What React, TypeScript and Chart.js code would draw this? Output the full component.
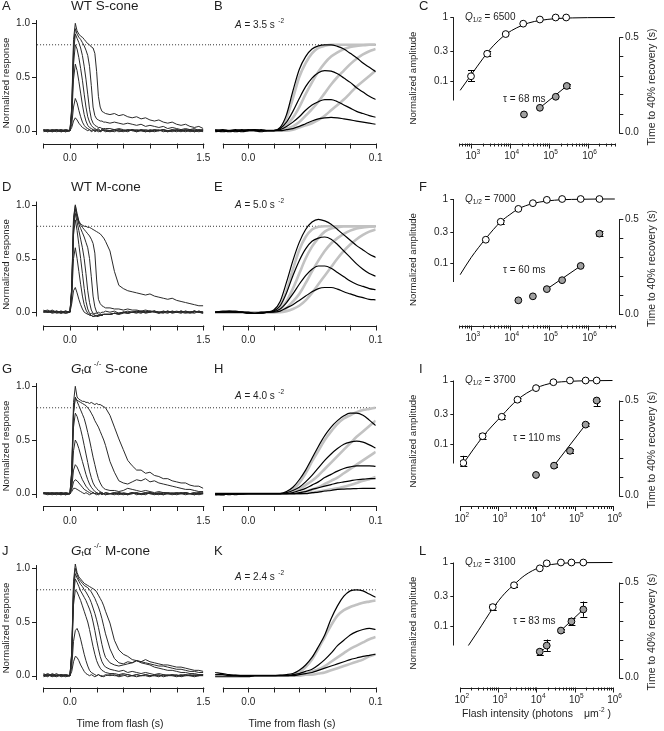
import React, { useEffect, useRef } from 'react';
import { Chart, registerables } from 'chart.js';

Chart.register(...registerables);

// ======================= DATA =======================
// Column 1: normalized flash responses (time in s)
const TRACE_TIME = [
  -0.3, -0.25, -0.2, -0.15, -0.1, -0.05, 0,
  0.02, 0.04, 0.06, 0.08, 0.1, 0.12, 0.14, 0.16, 0.18, 0.2, 0.22, 0.24, 0.26, 0.28, 0.3, 0.32, 0.34, 0.36, 0.38, 0.4,
  0.45, 0.5, 0.55, 0.6, 0.65, 0.7, 0.75, 0.8, 0.85, 0.9, 0.95, 1.0, 1.05, 1.1, 1.15, 1.2, 1.25, 1.3, 1.35, 1.4, 1.45, 1.5,
];

// WT S-cone
const WT_S_1 = [0.01, -0.01, 0.0, 0.01, -0.01, 0.0, 0.0,
  0.03, 0.09, 0.12, 0.1, 0.07, 0.05, 0.03, 0.02, 0.01, 0.0, 0.01, -0.01, 0.0, 0.01, 0.0, -0.01, 0.0, 0.01, 0.0, -0.01,
  0.0, 0.01, -0.01, 0.0, 0.01, 0.0, -0.01, 0.01, 0.0, -0.01, 0.0, 0.01, -0.01, 0.0, 0.01, 0.0, -0.01, 0.01, 0.0, -0.01, 0.01, 0.0];
const WT_S_2 = [0.0, 0.01, -0.01, 0.0, 0.01, -0.01, 0.0,
  0.06, 0.22, 0.3, 0.26, 0.19, 0.13, 0.08, 0.05, 0.03, 0.02, 0.01, 0.0, 0.01, -0.01, 0.0, 0.01, -0.01, 0.0, 0.01, 0.0,
  -0.01, 0.0, 0.01, 0.0, -0.01, 0.01, 0.0, 0.0, -0.01, 0.01, 0.0, 0.0, 0.01, -0.01, 0.0, 0.01, 0.0, -0.01, 0.0, 0.01, 0.0, -0.01];
const WT_S_3 = [-0.01, 0.0, 0.01, 0.0, -0.01, 0.01, 0.0,
  0.12, 0.48, 0.62, 0.56, 0.46, 0.35, 0.24, 0.15, 0.09, 0.05, 0.03, 0.02, 0.01, 0.0, 0.01, 0.0, -0.01, 0.0, 0.01, 0.0,
  0.0, -0.01, 0.01, 0.0, 0.0, 0.01, -0.01, 0.0, 0.01, 0.0, -0.01, 0.0, 0.01, 0.0, -0.01, 0.01, 0.0, 0.0, 0.01, -0.01, 0.0, 0.01];
const WT_S_4 = [0.01, 0.0, -0.01, 0.01, 0.0, -0.01, 0.0,
  0.15, 0.62, 0.8, 0.76, 0.68, 0.58, 0.47, 0.34, 0.22, 0.13, 0.08, 0.05, 0.03, 0.02, 0.01, 0.02, 0.0, 0.01, 0.0, 0.01,
  0.0, 0.01, 0.0, -0.01, 0.01, 0.0, 0.01, 0.0, -0.01, 0.0, 0.01, 0.0, 0.0, -0.01, 0.01, 0.0, 0.0, 0.01, -0.01, 0.0, 0.01, 0.0];
const WT_S_5 = [0.0, -0.01, 0.01, 0.0, 0.01, 0.0, 0.0,
  0.18, 0.72, 0.9, 0.86, 0.82, 0.77, 0.7, 0.6, 0.48, 0.34, 0.2, 0.11, 0.07, 0.05, 0.04, 0.03, 0.03, 0.02, 0.02, 0.02,
  0.02, 0.01, 0.02, 0.01, 0.0, 0.01, 0.0, 0.01, 0.0, -0.01, 0.01, 0.0, 0.01, 0.0, 0.0, -0.01, 0.01, 0.0, 0.01, 0.0, -0.01, 0.0];
const WT_S_6 = [0.01, 0.0, 0.0, -0.01, 0.0, 0.01, 0.0,
  0.2, 0.78, 0.95, 0.9, 0.87, 0.85, 0.82, 0.79, 0.75, 0.7, 0.6, 0.42, 0.22, 0.14, 0.11, 0.1, 0.09, 0.09, 0.08, 0.08,
  0.07, 0.08, 0.07, 0.06, 0.07, 0.06, 0.05, 0.06, 0.04, 0.05, 0.04, 0.03, 0.04, 0.02, 0.03, 0.02, 0.01, 0.02, 0.01, 0.02, 0.0, 0.01];
const WT_S_7 = [0.0, 0.01, 0.0, 0.01, -0.01, 0.0, 0.0,
  0.22, 0.85, 1.0, 0.93, 0.9, 0.88, 0.87, 0.85, 0.83, 0.81, 0.8, 0.78, 0.77, 0.72, 0.55, 0.32, 0.22, 0.18, 0.17, 0.16,
  0.15, 0.16, 0.14, 0.15, 0.13, 0.12, 0.13, 0.11, 0.12, 0.1, 0.09, 0.1, 0.08, 0.07, 0.08, 0.06, 0.05, 0.06, 0.04, 0.03, 0.04, 0.02];
const WT_S_TRACES = [WT_S_1, WT_S_2, WT_S_3, WT_S_4, WT_S_5, WT_S_6, WT_S_7];

// WT M-cone
const WT_M_1 = [0.01, 0.0, 0.02, 0.0, -0.01, 0.01, 0.0,
  0.08, 0.2, 0.23, 0.18, 0.12, 0.07, 0.03, 0.0, -0.01, -0.02, -0.02, -0.01, -0.02, -0.01, -0.01, 0.0, -0.01, 0.0, 0.0, 0.01,
  0.0, 0.01, -0.01, 0.0, 0.01, 0.0, 0.0, -0.01, 0.01, 0.0, 0.01, -0.01, 0.0, 0.01, 0.0, 0.0, -0.01, 0.01, 0.0, 0.01, 0.0, -0.01];
const WT_M_2 = [0.0, 0.01, 0.0, 0.01, 0.0, -0.01, 0.0,
  0.14, 0.5, 0.6, 0.5, 0.38, 0.26, 0.15, 0.07, 0.02, -0.01, -0.03, -0.03, -0.04, -0.03, -0.03, -0.03, -0.02, -0.03, -0.02, -0.02,
  -0.02, -0.01, -0.02, 0.0, -0.01, 0.0, 0.0, 0.01, -0.01, 0.0, 0.01, 0.0, 0.0, 0.01, -0.01, 0.0, 0.01, 0.0, 0.0, 0.01, 0.0, -0.01];
const WT_M_3 = [0.02, 0.0, 0.01, -0.01, 0.0, 0.01, 0.0,
  0.18, 0.72, 0.86, 0.76, 0.63, 0.5, 0.36, 0.22, 0.1, 0.03, -0.01, -0.03, -0.04, -0.04, -0.03, -0.03, -0.03, -0.02, -0.02, -0.02,
  -0.02, -0.01, -0.01, 0.0, -0.01, 0.0, 0.01, 0.0, 0.0, 0.01, 0.0, -0.01, 0.01, 0.0, 0.0, 0.01, 0.0, -0.01, 0.0, 0.01, 0.0, 0.0];
const WT_M_4 = [0.0, 0.01, -0.01, 0.0, 0.01, 0.0, 0.0,
  0.2, 0.78, 0.92, 0.84, 0.76, 0.68, 0.6, 0.5, 0.36, 0.2, 0.09, 0.02, -0.01, -0.03, -0.04, -0.04, -0.03, -0.03, -0.02, -0.02,
  -0.02, -0.01, -0.02, -0.01, 0.0, 0.0, -0.01, 0.01, 0.0, 0.0, 0.01, 0.0, 0.0, -0.01, 0.01, 0.0, 0.01, 0.0, 0.0, -0.01, 0.01, 0.0];
const WT_M_5 = [0.01, 0.0, 0.0, 0.01, -0.01, 0.0, 0.0,
  0.21, 0.82, 0.96, 0.88, 0.82, 0.78, 0.74, 0.7, 0.65, 0.6, 0.5, 0.33, 0.15, 0.05, 0.0, -0.02, -0.03, -0.03, -0.02, -0.02,
  -0.02, -0.01, -0.01, 0.0, -0.01, 0.0, 0.01, 0.0, 0.0, 0.01, 0.0, 0.0, -0.01, 0.01, 0.0, 0.0, 0.01, 0.0, -0.01, 0.0, 0.01, 0.0];
const WT_M_6 = [0.0, 0.0, 0.01, 0.0, 0.01, -0.01, 0.0,
  0.22, 0.86, 0.99, 0.9, 0.84, 0.81, 0.79, 0.77, 0.75, 0.73, 0.71, 0.68, 0.64, 0.55, 0.3, 0.12, 0.08, 0.06, 0.05, 0.04,
  0.04, 0.03, 0.03, 0.02, 0.03, 0.02, 0.02, 0.01, 0.02, 0.01, 0.01, 0.0, 0.01, 0.0, 0.01, 0.0, 0.0, 0.01, 0.0, 0.01, 0.0, 0.0];
const WT_M_7 = [0.01, 0.02, 0.0, 0.01, 0.0, 0.01, 0.0,
  0.23, 0.88, 1.0, 0.92, 0.85, 0.82, 0.81, 0.8, 0.8, 0.79, 0.79, 0.78, 0.77, 0.76, 0.75, 0.74, 0.73, 0.71, 0.69, 0.66,
  0.57, 0.38, 0.25, 0.22, 0.2, 0.19, 0.18, 0.17, 0.16, 0.17, 0.15, 0.14, 0.13, 0.12, 0.13, 0.11, 0.1, 0.09, 0.08, 0.07, 0.06, 0.06];
const WT_M_TRACES = [WT_M_1, WT_M_2, WT_M_3, WT_M_4, WT_M_5, WT_M_6, WT_M_7];

// Gt alpha -/- S-cone
const GT_S_1 = [0.0, 0.01, 0.0, -0.01, 0.01, 0.0, 0.0,
  0.02, 0.05, 0.05, 0.04, 0.03, 0.02, 0.01, 0.0, 0.01, 0.0, -0.01, 0.0, 0.01, 0.0, 0.0, -0.01, 0.0, 0.01, 0.0, 0.0,
  0.0, -0.01, 0.01, 0.0, 0.0, 0.01, -0.01, 0.0, 0.01, 0.0, 0.0, -0.01, 0.01, 0.0, 0.0, 0.01, 0.0, -0.01, 0.0, 0.01, 0.0, 0.0];
const GT_S_2 = [0.01, 0.0, 0.0, 0.01, 0.0, -0.01, 0.0,
  0.04, 0.11, 0.13, 0.12, 0.1, 0.08, 0.06, 0.04, 0.03, 0.02, 0.01, 0.0, 0.01, 0.0, -0.01, 0.0, 0.01, 0.0, 0.0, -0.01,
  0.0, 0.01, 0.0, -0.01, 0.0, 0.01, 0.0, 0.0, -0.01, 0.01, 0.0, 0.01, 0.0, 0.0, -0.01, 0.0, 0.01, 0.0, 0.0, 0.01, -0.01, 0.0];
const GT_S_3 = [0.0, 0.0, 0.01, 0.0, -0.01, 0.0, 0.0,
  0.06, 0.22, 0.27, 0.25, 0.21, 0.17, 0.13, 0.1, 0.07, 0.05, 0.03, 0.02, 0.01, 0.0, 0.01, 0.0, 0.0, -0.01, 0.0, 0.01,
  0.0, 0.0, -0.01, 0.01, 0.0, 0.0, 0.01, -0.01, 0.0, 0.01, 0.0, 0.0, -0.01, 0.0, 0.01, 0.0, 0.0, 0.01, 0.0, -0.01, 0.0, 0.01];
const GT_S_4 = [0.01, 0.0, -0.01, 0.0, 0.01, 0.0, 0.0,
  0.1, 0.4, 0.5, 0.47, 0.42, 0.36, 0.3, 0.24, 0.18, 0.13, 0.09, 0.06, 0.04, 0.02, 0.01, 0.0, 0.01, 0.0, 0.0, -0.01,
  0.0, 0.01, 0.0, 0.0, -0.01, 0.01, 0.0, 0.0, 0.01, 0.0, -0.01, 0.0, 0.01, 0.0, 0.0, -0.01, 0.0, 0.01, 0.0, 0.0, 0.01, 0.0];
const GT_S_5 = [0.0, -0.01, 0.0, 0.01, 0.0, 0.0, 0.0,
  0.16, 0.62, 0.75, 0.72, 0.66, 0.6, 0.53, 0.45, 0.37, 0.29, 0.21, 0.15, 0.1, 0.07, 0.05, 0.03, 0.02, 0.01, 0.0, 0.01,
  0.0, 0.0, 0.01, 0.0, -0.01, 0.0, 0.01, 0.0, 0.0, 0.01, 0.0, 0.0, -0.01, 0.01, 0.0, 0.0, 0.01, 0.0, 0.0, -0.01, 0.0, 0.01];
const GT_S_6 = [0.01, 0.0, 0.0, 0.0, 0.01, -0.01, 0.0,
  0.2, 0.75, 0.9, 0.86, 0.82, 0.78, 0.74, 0.7, 0.64, 0.57, 0.5, 0.42, 0.34, 0.27, 0.2, 0.14, 0.1, 0.07, 0.05, 0.04,
  0.03, 0.03, 0.02, 0.03, 0.05, 0.04, 0.03, 0.02, 0.03, 0.02, 0.01, 0.02, 0.01, 0.01, 0.0, 0.01, 0.0, 0.01, 0.0, 0.0, 0.01, 0.0];
const GT_S_7 = [0.0, 0.01, 0.0, 0.0, -0.01, 0.01, 0.0,
  0.2, 0.76, 0.89, 0.87, 0.86, 0.85, 0.84, 0.83, 0.82, 0.8, 0.78, 0.75, 0.72, 0.68, 0.65, 0.62, 0.58, 0.54, 0.5, 0.45,
  0.3, 0.2, 0.12, 0.1, 0.09, 0.11, 0.13, 0.12, 0.14, 0.11, 0.12, 0.1, 0.09, 0.08, 0.07, 0.06, 0.05, 0.04, 0.04, 0.03, 0.02, 0.02];
const GT_S_8 = [0.01, 0.0, 0.01, 0.0, 0.0, 0.01, 0.0,
  0.22, 0.85, 1.0, 0.9, 0.88, 0.87, 0.86, 0.86, 0.85, 0.85, 0.84, 0.85, 0.84, 0.83, 0.84, 0.83, 0.83, 0.82, 0.81, 0.8,
  0.73, 0.62, 0.51, 0.41, 0.31, 0.26, 0.22, 0.22, 0.19, 0.2, 0.17, 0.16, 0.14, 0.14, 0.12, 0.11, 0.1, 0.1, 0.08, 0.07, 0.07, 0.05];
const GT_S_TRACES = [GT_S_1, GT_S_2, GT_S_3, GT_S_4, GT_S_5, GT_S_6, GT_S_7, GT_S_8];

// Gt alpha -/- M-cone
const GT_M_1 = [0.01, -0.01, 0.02, 0.0, 0.01, -0.01, 0.0,
  0.04, 0.13, 0.18, 0.17, 0.14, 0.1, 0.07, 0.04, 0.02, 0.01, 0.0, 0.01, 0.0, -0.01, 0.0, 0.01, 0.0, -0.01, 0.0, 0.01,
  0.0, 0.01, -0.01, 0.0, 0.01, 0.0, -0.01, 0.0, 0.01, 0.0, 0.0, -0.01, 0.01, 0.0, 0.0, 0.01, -0.01, 0.0, 0.01, 0.0, 0.0, 0.01];
const GT_M_2 = [0.0, 0.01, 0.0, -0.01, 0.01, 0.0, 0.0,
  0.08, 0.32, 0.42, 0.44, 0.4, 0.34, 0.27, 0.2, 0.14, 0.09, 0.05, 0.03, 0.02, 0.01, 0.0, 0.01, 0.0, 0.0, -0.01, 0.0,
  0.01, 0.0, 0.0, 0.01, -0.01, 0.0, 0.01, 0.0, 0.0, -0.01, 0.01, 0.0, 0.0, 0.01, 0.0, -0.01, 0.0, 0.01, 0.0, 0.0, 0.01, 0.0];
const GT_M_3 = [-0.01, 0.0, 0.01, 0.0, 0.0, 0.01, 0.0,
  0.16, 0.66, 0.8, 0.78, 0.74, 0.7, 0.65, 0.6, 0.55, 0.5, 0.43, 0.35, 0.27, 0.2, 0.14, 0.1, 0.07, 0.05, 0.04, 0.03,
  0.02, 0.02, 0.01, 0.02, 0.01, 0.0, 0.01, 0.0, 0.01, 0.0, 0.0, 0.01, -0.01, 0.0, 0.01, 0.0, 0.0, 0.01, 0.0, -0.01, 0.0, 0.01];
const GT_M_4 = [0.01, 0.0, 0.0, 0.02, -0.01, 0.0, 0.0,
  0.18, 0.75, 0.9, 0.87, 0.83, 0.79, 0.76, 0.73, 0.7, 0.66, 0.62, 0.57, 0.5, 0.42, 0.33, 0.25, 0.18, 0.13, 0.1, 0.08,
  0.06, 0.05, 0.04, 0.05, 0.03, 0.04, 0.03, 0.02, 0.03, 0.02, 0.01, 0.02, 0.01, 0.0, 0.01, 0.0, 0.01, 0.0, 0.0, 0.01, 0.0, 0.0];
const GT_M_5 = [0.0, 0.02, 0.0, 0.0, 0.01, 0.0, 0.0,
  0.2, 0.8, 0.95, 0.91, 0.88, 0.85, 0.83, 0.8, 0.78, 0.75, 0.72, 0.68, 0.63, 0.58, 0.52, 0.45, 0.37, 0.29, 0.22, 0.17,
  0.12, 0.1, 0.09, 0.1, 0.11, 0.12, 0.14, 0.12, 0.11, 0.1, 0.08, 0.07, 0.06, 0.05, 0.05, 0.04, 0.03, 0.03, 0.02, 0.02, 0.01, 0.01];
const GT_M_6 = [0.02, 0.0, 0.01, 0.0, 0.0, 0.01, 0.0,
  0.21, 0.84, 1.0, 0.94, 0.9, 0.88, 0.86, 0.84, 0.83, 0.82, 0.8, 0.78, 0.75, 0.72, 0.68, 0.64, 0.59, 0.53, 0.46, 0.39,
  0.25, 0.16, 0.12, 0.11, 0.13, 0.12, 0.14, 0.13, 0.12, 0.11, 0.1, 0.09, 0.09, 0.08, 0.07, 0.06, 0.06, 0.05, 0.04, 0.04, 0.03, 0.03];
const GT_M_7 = [0.0, 0.01, -0.01, 0.01, 0.0, 0.0, 0.0,
  0.22, 0.88, 1.04, 0.96, 0.92, 0.9, 0.88, 0.86, 0.85, 0.84, 0.83, 0.82, 0.81, 0.8, 0.78, 0.75, 0.72, 0.69, 0.65, 0.6,
  0.49, 0.33, 0.24, 0.2, 0.18, 0.15, 0.14, 0.13, 0.15, 0.13, 0.12, 0.11, 0.1, 0.1, 0.09, 0.08, 0.08, 0.07, 0.06, 0.05, 0.05, 0.04];
const GT_M_TRACES = [GT_M_1, GT_M_2, GT_M_3, GT_M_4, GT_M_5, GT_M_6, GT_M_7];

// Column 2: early rising phase (black = responses, grey = model)
const RISE_TIME = [-0.026, -0.02, -0.015, -0.01, -0.005, 0, 0.005, 0.01, 0.015, 0.02, 0.025, 0.03, 0.035,
  0.04, 0.045, 0.05, 0.055, 0.06, 0.065, 0.07, 0.075, 0.08, 0.085, 0.09, 0.095, 0.1];

const WT_S_RISE_BLACK = [
  [0.0, -0.01, 0.0, 0.01, 0.0, 0.005, 0.01, 0.0, 0.0, 0.0, 0.03, 0.15, 0.37, 0.57, 0.69, 0.76, 0.79, 0.8, 0.8, 0.785, 0.76, 0.72, 0.68, 0.63, 0.59, 0.55],
  [0.01, 0.0, -0.01, 0.0, 0.01, 0.0, 0.0, 0.01, 0.0, 0.0, 0.02, 0.08, 0.18, 0.3, 0.41, 0.49, 0.54, 0.56, 0.555, 0.53, 0.49, 0.45, 0.4, 0.36, 0.32, 0.29],
  [-0.01, 0.0, 0.0, -0.01, 0.0, 0.01, 0.0, -0.01, 0.0, 0.0, 0.01, 0.04, 0.08, 0.13, 0.19, 0.24, 0.27, 0.29, 0.29, 0.27, 0.24, 0.21, 0.18, 0.16, 0.14, 0.125],
  [0.0, 0.01, 0.0, 0.0, -0.01, 0.0, 0.01, 0.0, 0.0, 0.0, 0.0, 0.01, 0.02, 0.04, 0.065, 0.09, 0.11, 0.12, 0.125, 0.12, 0.11, 0.1, 0.09, 0.08, 0.07, 0.06],
];
const WT_S_RISE_GREY = [
  [0, 0, 0, 0, 0, 0, 0, 0, 0, 0, 0.02, 0.12, 0.3, 0.5, 0.63, 0.72, 0.77, 0.79, 0.8, 0.8, 0.8, 0.8, 0.8, 0.8, 0.8, 0.8],
  [0, 0, 0, 0, 0, 0, 0, 0, 0, 0, 0.01, 0.05, 0.12, 0.22, 0.34, 0.45, 0.55, 0.63, 0.69, 0.73, 0.76, 0.78, 0.79, 0.795, 0.8, 0.8],
  [0, 0, 0, 0, 0, 0, 0, 0, 0, 0, 0.0, 0.02, 0.04, 0.08, 0.14, 0.2, 0.27, 0.35, 0.43, 0.5, 0.56, 0.62, 0.67, 0.71, 0.74, 0.76],
  [0, 0, 0, 0, 0, 0, 0, 0, 0, 0, 0.0, 0.0, 0.01, 0.03, 0.05, 0.07, 0.1, 0.14, 0.19, 0.24, 0.29, 0.35, 0.41, 0.46, 0.51, 0.56],
];
const WT_M_RISE_BLACK = [
  [0.0, 0.01, 0.01, 0.0, 0.0, 0.0, -0.01, -0.01, 0.0, 0.02, 0.1, 0.28, 0.48, 0.65, 0.77, 0.84, 0.865, 0.85, 0.82, 0.77, 0.72, 0.67, 0.62, 0.58, 0.54, 0.51],
  [0.0, 0.0, 0.01, 0.01, 0.0, -0.01, -0.01, -0.01, 0.0, 0.01, 0.06, 0.18, 0.34, 0.48, 0.59, 0.66, 0.69, 0.7, 0.68, 0.63, 0.57, 0.51, 0.45, 0.4, 0.36, 0.335],
  [0.0, 0.0, 0.0, 0.0, 0.0, -0.01, -0.01, -0.005, 0.0, 0.005, 0.03, 0.09, 0.17, 0.26, 0.34, 0.4, 0.43, 0.43, 0.41, 0.37, 0.33, 0.29, 0.26, 0.24, 0.22, 0.21],
  [0.0, 0.0, 0.0, 0.0, 0.0, -0.005, -0.01, 0.0, 0.0, 0.0, 0.01, 0.04, 0.07, 0.11, 0.15, 0.19, 0.22, 0.23, 0.23, 0.215, 0.19, 0.17, 0.15, 0.135, 0.12, 0.115],
];
const WT_M_RISE_GREY = [
  [0, 0, 0, 0, 0, 0, 0, 0, 0, 0.01, 0.06, 0.2, 0.4, 0.58, 0.7, 0.77, 0.795, 0.8, 0.8, 0.8, 0.8, 0.8, 0.8, 0.8, 0.8, 0.8],
  [0, 0, 0, 0, 0, 0, 0, 0, 0, 0.0, 0.03, 0.1, 0.22, 0.36, 0.5, 0.61, 0.69, 0.75, 0.78, 0.79, 0.8, 0.8, 0.8, 0.8, 0.8, 0.8],
  [0, 0, 0, 0, 0, 0, 0, 0, 0, 0.0, 0.01, 0.04, 0.1, 0.17, 0.27, 0.38, 0.48, 0.57, 0.64, 0.69, 0.73, 0.76, 0.78, 0.79, 0.795, 0.8],
  [0, 0, 0, 0, 0, 0, 0, 0, 0, 0.0, 0.0, 0.01, 0.03, 0.06, 0.11, 0.18, 0.26, 0.34, 0.42, 0.5, 0.57, 0.63, 0.68, 0.72, 0.75, 0.77],
];
const GT_S_RISE_BLACK = [
  [-0.01, -0.01, 0.0, 0.0, -0.005, 0.0, 0.0, 0.0, 0.0, 0.0, 0.0, 0.02, 0.06, 0.13, 0.22, 0.33, 0.44, 0.54, 0.62, 0.68, 0.725, 0.75, 0.75, 0.73, 0.685, 0.635],
  [-0.01, 0.0, 0.0, -0.01, 0.0, 0.0, 0.0, 0.0, 0.0, 0.0, 0.0, 0.01, 0.03, 0.06, 0.11, 0.17, 0.24, 0.31, 0.37, 0.42, 0.46, 0.48, 0.49, 0.48, 0.455, 0.425],
  [0.0, -0.01, 0.0, 0.0, 0.0, 0.0, 0.0, 0.0, 0.0, 0.0, 0.0, 0.0, 0.01, 0.03, 0.05, 0.08, 0.11, 0.15, 0.18, 0.21, 0.235, 0.25, 0.26, 0.26, 0.26, 0.255],
  [-0.01, -0.01, 0.0, 0.0, 0.0, 0.0, 0.0, 0.0, 0.0, 0.0, 0.0, 0.0, 0.0, 0.01, 0.02, 0.04, 0.055, 0.07, 0.085, 0.1, 0.11, 0.12, 0.13, 0.135, 0.14, 0.14],
  [0.0, 0.0, -0.01, 0.0, 0.0, 0.0, 0.0, 0.0, 0.0, 0.0, 0.0, 0.0, 0.0, 0.0, 0.0, 0.01, 0.015, 0.025, 0.03, 0.04, 0.043, 0.045, 0.048, 0.05, 0.05, 0.05],
];
const GT_S_RISE_GREY = [
  [0, 0, 0, 0, 0, 0, 0, 0, 0, 0, 0, 0.01, 0.04, 0.1, 0.19, 0.3, 0.4, 0.5, 0.58, 0.65, 0.7, 0.73, 0.76, 0.78, 0.79, 0.8],
  [0, 0, 0, 0, 0, 0, 0, 0, 0, 0, 0, 0.0, 0.01, 0.04, 0.08, 0.12, 0.17, 0.23, 0.29, 0.35, 0.41, 0.47, 0.53, 0.58, 0.63, 0.68],
  [0, 0, 0, 0, 0, 0, 0, 0, 0, 0, 0, 0.0, 0.0, 0.01, 0.02, 0.04, 0.06, 0.09, 0.12, 0.15, 0.19, 0.23, 0.27, 0.31, 0.35, 0.39],
  [0, 0, 0, 0, 0, 0, 0, 0, 0, 0, 0, 0.0, 0.0, 0.0, 0.01, 0.01, 0.02, 0.03, 0.04, 0.05, 0.065, 0.08, 0.1, 0.12, 0.135, 0.155],
];
const GT_M_RISE_BLACK = [
  [0.03, 0.02, 0.01, 0.005, 0.0, 0.0, 0.0, 0.0, 0.0, 0.0, 0.005, 0.01, 0.02, 0.05, 0.1, 0.17, 0.27, 0.38, 0.53, 0.65, 0.74, 0.79, 0.8, 0.79, 0.76, 0.73],
  [0.01, 0.01, 0.0, 0.0, -0.005, -0.005, 0.0, 0.0, 0.0, 0.0, 0.0, 0.0, 0.01, 0.02, 0.04, 0.06, 0.1, 0.15, 0.21, 0.28, 0.33, 0.38, 0.41, 0.43, 0.44, 0.43],
  [-0.01, -0.01, -0.01, -0.01, -0.01, -0.01, 0.0, 0.0, 0.0, 0.0, 0.0, 0.0, 0.0, 0.01, 0.02, 0.03, 0.05, 0.07, 0.09, 0.11, 0.13, 0.15, 0.165, 0.18, 0.19, 0.2],
];
const GT_M_RISE_GREY = [
  [0, 0, 0, 0, 0, 0, 0, 0, 0, 0, 0, 0.0, 0.01, 0.03, 0.08, 0.15, 0.25, 0.36, 0.47, 0.56, 0.61, 0.64, 0.66, 0.68, 0.69, 0.7],
  [0, 0, 0, 0, 0, 0, 0, 0, 0, 0, 0, 0.0, 0.0, 0.01, 0.02, 0.04, 0.06, 0.09, 0.13, 0.17, 0.21, 0.25, 0.28, 0.31, 0.34, 0.36],
  [0, 0, 0, 0, 0, 0, 0, 0, 0, 0, 0, 0.0, 0.0, 0.0, 0.01, 0.01, 0.02, 0.03, 0.05, 0.07, 0.09, 0.11, 0.13, 0.15, 0.18, 0.2],
];

// Column 3: amplitude vs flash intensity (open) and time to 40% recovery (grey)
const WT_S_AMP = [[1000, 0.12], [2600, 0.27], [7800, 0.55], [22000, 0.8], [59000, 0.93], [150000, 1.0], [280000, 1.0]];
const WT_S_AMP_ERR = [[0.1, 0.15], [0.245, 0.3], null, null, null, null, null];
const WT_S_FIT = [[525, 0.072], [1000, 0.125], [2000, 0.225], [3000, 0.31], [5000, 0.43], [8000, 0.55], [15000, 0.69], [30000, 0.82], [60000, 0.9], [150000, 0.96], [400000, 0.985], [1000000, 0.995], [5000000, 1.0]];
const WT_S_REC = [[23000, 0.095], [59000, 0.13], [151000, 0.188], [290000, 0.245]];
const WT_S_REC_ERR = [null, null, null, [0.235, 0.255]];
const WT_S_TAU_LINE = [[59000, 0.13], [290000, 0.245]];

const WT_M_AMP = [[2400, 0.23], [5800, 0.44], [16500, 0.7], [39000, 0.86], [89000, 0.97], [220000, 1.0], [660000, 1.0], [2000000, 1.0]];
const WT_M_AMP_ERR = [null, [0.41, 0.47], null, null, null, null, null, null];
const WT_M_FIT = [[525, 0.065], [1000, 0.12], [2400, 0.24], [5800, 0.44], [10000, 0.57], [16500, 0.7], [39000, 0.85], [89000, 0.93], [220000, 0.975], [660000, 0.99], [2000000, 1.0], [5000000, 1.0]];
const WT_M_REC = [[16500, 0.072], [39000, 0.093], [89000, 0.131], [220000, 0.178], [660000, 0.253], [2000000, 0.423]];
const WT_M_REC_ERR = [null, null, null, null, null, [0.41, 0.435]];
const WT_M_TAU_LINE = [[89000, 0.131], [660000, 0.253]];

const GT_S_AMP = [[122, 0.051], [390, 0.134], [1240, 0.27], [3200, 0.5], [9800, 0.76], [28000, 0.94], [76000, 1.0], [195000, 1.0], [380000, 1.0]];
const GT_S_AMP_ERR = [[0.045, 0.066], [0.12, 0.15], [0.25, 0.29], [0.47, 0.53], null, null, null, null, null];
const GT_S_FIT = [[122, 0.05], [390, 0.13], [1240, 0.28], [3200, 0.5], [9800, 0.76], [28000, 0.92], [76000, 0.97], [200000, 0.99], [1000000, 1.0]];
const GT_S_REC = [[9800, 0.108], [29000, 0.157], [76000, 0.235], [195000, 0.373], [380000, 0.5]];
const GT_S_REC_ERR = [null, [0.15, 0.165], [0.225, 0.245], [0.365, 0.381], [0.47, 0.5]];
const GT_S_TAU_LINE = [[29000, 0.157], [195000, 0.373]];

const GT_M_AMP = [[720, 0.2], [2600, 0.44], [12300, 0.81], [18700, 0.97], [44000, 1.0], [83000, 1.0], [170000, 1.0]];
const GT_M_AMP_ERR = [[0.18, 0.22], [0.42, 0.46], null, null, null, null, null];
const GT_M_FIT = [[166, 0.05], [300, 0.085], [720, 0.19], [1500, 0.33], [2600, 0.45], [5000, 0.63], [12300, 0.84], [25000, 0.93], [60000, 0.98], [200000, 0.995], [1000000, 1.0]];
const GT_M_REC = [[12300, 0.136], [18700, 0.168], [44000, 0.247], [83000, 0.295], [170000, 0.358]];
const GT_M_REC_ERR = [[0.12, 0.15], [0.14, 0.2], [0.24, 0.255], [0.275, 0.315], [0.32, 0.4]];
const GT_M_TAU_LINE = [[44000, 0.247], [170000, 0.358]];

// Labels / parameters
const RISE_A_VALUES = ['3.5', '5.0', '4.0', '2.4'];
const Q_HALF_VALUES = ['6500', '7000', '3700', '3100'];
const TAU_VALUES = ['68', '60', '110', '83'];
const PANEL_LETTERS = [['A', 'B', 'C'], ['D', 'E', 'F'], ['G', 'H', 'I'], ['J', 'K', 'L']];
const CELL_NAMES = ['S-cone', 'M-cone', 'S-cone', 'M-cone'];
const KNOCKOUT = [false, false, true, true];
const CRITERION = 0.8;
const RESP_TICKS = [0, 0.5, 1];
const RESP_TICK_LABELS = ['0.0', '0.5', '1.0'];
const TRACE_X_TICKS = [-0.3, 0, 0.3, 0.6, 0.9, 1.2, 1.5];
const TRACE_X_LABELS = [[0, '0.0'], [1.5, '1.5']];
const RISE_X_TICKS = [-0.02, 0, 0.02, 0.04, 0.06, 0.08, 0.1];
const RISE_X_LABELS = [[0, '0.0'], [0.1, '0.1']];
const AMP_TICKS = [1, 0.3, 0.1];
const AMP_TICK_LABELS = ['1', '0.3', '0.1'];
const REC_TICKS = [0, 0.1, 0.2, 0.3, 0.4, 0.5];
const REC_TICK_LABELS = [[0.5, '0.5'], [0, '0.0']];
const AMP_X_SPAN = [[500, 5000000], [500, 5000000], [100, 1000000], [100, 1000000]];

const TRACE_SETS = [WT_S_TRACES, WT_M_TRACES, GT_S_TRACES, GT_M_TRACES];
const RISE_BLACK_SETS = [WT_S_RISE_BLACK, WT_M_RISE_BLACK, GT_S_RISE_BLACK, GT_M_RISE_BLACK];
const RISE_GREY_SETS = [WT_S_RISE_GREY, WT_M_RISE_GREY, GT_S_RISE_GREY, GT_M_RISE_GREY];
const AMP_SETS = [WT_S_AMP, WT_M_AMP, GT_S_AMP, GT_M_AMP];
const AMP_ERR_SETS = [WT_S_AMP_ERR, WT_M_AMP_ERR, GT_S_AMP_ERR, GT_M_AMP_ERR];
const FIT_SETS = [WT_S_FIT, WT_M_FIT, GT_S_FIT, GT_M_FIT];
const REC_SETS = [WT_S_REC, WT_M_REC, GT_S_REC, GT_M_REC];
const REC_ERR_SETS = [WT_S_REC_ERR, WT_M_REC_ERR, GT_S_REC_ERR, GT_M_REC_ERR];
const TAU_LINE_SETS = [WT_S_TAU_LINE, WT_M_TAU_LINE, GT_S_TAU_LINE, GT_M_TAU_LINE];

// ======================= LAYOUT =======================
const W = 664;
const H = 731;
const FONT = '"Liberation Sans", Arial, Helvetica, sans-serif';
const INK = '#1e1e1e';
const SMALL = 10;
const ROW_TOP = [0, 181.5, 363, 545];
const AXIS_Y = [143.5, 325.5, 506, 687.5];
const RESP_PIX = { one: 23.3, zero: 130.7 };
const TRACE_PIX = { left: 43.3, right: 203.3, yAxis: 36 };
const RISE_PIX = { zero: 248.3, tenth: 375.7, left: 210 };
const AMP_PIX = { one: 17.5, tenth: 81.3, half: 37.5, zeroRec: 132.5, leftAxis: 453.3, rightAxis: 619.3 };
const AMP_X_PIX = [
  { v1: 1e3, p1: 471, v2: 1e6, p2: 587.7, l: 459.3, r: 614.9 },
  { v1: 1e3, p1: 471, v2: 1e6, p2: 587.7, l: 459.3, r: 614.9 },
  { v1: 1e2, p1: 460, v2: 1e6, p2: 612.7, l: 460, r: 612.7 },
  { v1: 1e2, p1: 460, v2: 1e6, p2: 612.7, l: 460, r: 612.7 },
];
const RISE_A_POS = [[235, 25], [235, 205], [235, 396], [235, 577]];
const TAU_POS = [[503, 99], [503, 270], [513, 438], [513, 621]];

// ======================= HELPERS =======================
function lin(v1, p1, v2, p2, pa, pb, log = false) {
  const f = (v) => (log ? Math.log10(v) : v);
  const a = f(v1), b = f(v2), k = (b - a) / (p2 - p1);
  let u = a + (pa - p1) * k, w = a + (pb - p1) * k;
  if (u > w) { const t = u; u = w; w = t; }
  return log ? [Math.pow(10, u), Math.pow(10, w)] : [u, w];
}

function fnt(size, italic) {
  return `${italic ? 'italic ' : ''}${size}px ${FONT}`;
}

function drawRich(ctx, x, y, segs, align = 'left', base = SMALL) {
  let total = 0;
  const widths = segs.map((s) => {
    ctx.font = fnt(s.size ?? base, s.italic);
    const w = ctx.measureText(s.t).width;
    total += w;
    return w;
  });
  let cx = align === 'center' ? x - total / 2 : align === 'right' ? x - total : x;
  ctx.textAlign = 'left';
  ctx.textBaseline = 'middle';
  ctx.fillStyle = INK;
  segs.forEach((s, i) => {
    ctx.font = fnt(s.size ?? base, s.italic);
    ctx.fillText(s.t, cx, y + (s.dy ?? 0));
    cx += widths[i];
  });
}

function drawRotated(ctx, x, y, segs, base = SMALL) {
  ctx.save();
  ctx.translate(x, y);
  ctx.rotate(-Math.PI / 2);
  drawRich(ctx, 0, 0, segs, 'center', base);
  ctx.restore();
}

const crisp = (v) => Math.round(v) + 0.5;
function hLine(ctx, x1, x2, y) {
  ctx.beginPath();
  ctx.moveTo(x1, crisp(y));
  ctx.lineTo(x2, crisp(y));
  ctx.stroke();
}
function vLine(ctx, x, y1, y2) {
  ctx.beginPath();
  ctx.moveTo(crisp(x), y1);
  ctx.lineTo(crisp(x), y2);
  ctx.stroke();
}

function pad(l, t, r, b) {
  return { left: l, top: t, right: W - r, bottom: H - b };
}

function baseOptions(padding, scales) {
  return {
    responsive: false,
    animation: false,
    events: [],
    layout: { padding },
    plugins: { legend: { display: false }, tooltip: { enabled: false }, title: { display: false } },
    scales,
  };
}

function hidden(type, min, max, extra = {}) {
  return { type, min, max, display: false, bounds: 'data', grace: 0, ...extra };
}

function drawLetter(ctx, letter, x, row) {
  drawRich(ctx, x, ROW_TOP[row] + 6, [{ t: letter }], 'left', 13);
}

// ======================= PANEL CONFIGS =======================
function traceConfig(row) {
  const R = ROW_TOP[row];
  const top = R + 8, bottom = R + 141;
  const [ymin, ymax] = lin(1, R + RESP_PIX.one, 0, R + RESP_PIX.zero, bottom, top);
  const datasets = TRACE_SETS[row].map((v) => ({
    data: TRACE_TIME.map((t, i) => ({ x: t, y: v[i] })),
    borderColor: '#2a2a2a',
    borderWidth: 1,
    pointRadius: 0,
    tension: 0,
    fill: false,
    order: 2,
  }));
  datasets.push({
    data: [{ x: -0.37, y: CRITERION }, { x: 1.58, y: CRITERION }],
    borderColor: '#333',
    borderWidth: 1,
    borderDash: [1, 2],
    pointRadius: 0,
    fill: false,
    clip: false,
    order: 3,
  });
  const overlay = {
    id: 'traceOverlay' + row,
    afterDraw(chart) {
      const ctx = chart.ctx;
      const xs = chart.scales.x, ys = chart.scales.y;
      const ay = AXIS_Y[row];
      ctx.save();
      ctx.strokeStyle = INK;
      ctx.lineWidth = 1;
      vLine(ctx, TRACE_PIX.yAxis, ys.getPixelForValue(1.03), ys.getPixelForValue(-0.04));
      RESP_TICKS.forEach((v, k) => {
        const p = ys.getPixelForValue(v);
        hLine(ctx, TRACE_PIX.yAxis - 4, TRACE_PIX.yAxis + 0.5, p);
        drawRich(ctx, 30, p, [{ t: RESP_TICK_LABELS[k] }], 'right');
      });
      hLine(ctx, xs.getPixelForValue(TRACE_X_TICKS[0]), xs.getPixelForValue(TRACE_X_TICKS[TRACE_X_TICKS.length - 1]) + 1, ay);
      TRACE_X_TICKS.forEach((v) => vLine(ctx, xs.getPixelForValue(v), ay, ay + 5));
      TRACE_X_LABELS.forEach(([v, s]) => drawRich(ctx, xs.getPixelForValue(v), ay + 15, [{ t: s }], 'center'));
      drawRotated(ctx, 6, R + 83, [{ t: 'Normalized response' }], 9.6);
      drawLetter(ctx, PANEL_LETTERS[row][0], 2, row);
      const titleSegs = KNOCKOUT[row]
        ? [{ t: 'G', italic: true }, { t: 't', size: 8, dy: 3 }, { t: 'α' }, { t: ' -/-', size: 8, dy: -5 }, { t: ' ' + CELL_NAMES[row] }]
        : [{ t: 'WT ' + CELL_NAMES[row] }];
      drawRich(ctx, 71, R + 6, titleSegs, 'left', 13.5);
      if (row === 3) drawRich(ctx, 120, 724, [{ t: 'Time from flash (s)' }], 'center', 10.5);
      ctx.restore();
    },
  };
  return {
    type: 'line',
    data: { datasets },
    options: baseOptions(pad(TRACE_PIX.left, top, TRACE_PIX.right, bottom), {
      x: hidden('linear', -0.3, 1.5),
      y: hidden('linear', ymin, ymax),
    }),
    plugins: [overlay],
  };
}

function riseConfig(row) {
  const R = ROW_TOP[row];
  const top = R + 8, bottom = R + 141;
  const [ymin, ymax] = lin(1, R + RESP_PIX.one, 0, R + RESP_PIX.zero, bottom, top);
  const [xmin, xmax] = lin(0, RISE_PIX.zero, 0.1, RISE_PIX.tenth, RISE_PIX.left, RISE_PIX.tenth);
  const mk = (v) => RISE_TIME.map((t, i) => ({ x: t, y: v[i] }));
  const datasets = [
    ...RISE_BLACK_SETS[row].map((v) => ({
      data: mk(v), borderColor: '#000', borderWidth: 1.2, pointRadius: 0, fill: false,
      cubicInterpolationMode: 'monotone', order: 1,
    })),
    ...RISE_GREY_SETS[row].map((v) => ({
      data: mk(v), borderColor: '#c2c2c2', borderWidth: 2.6, pointRadius: 0, fill: false,
      cubicInterpolationMode: 'monotone', order: 2,
    })),
    {
      data: [{ x: xmin, y: CRITERION }, { x: 0.1, y: CRITERION }],
      borderColor: '#333', borderWidth: 1, borderDash: [1, 2], pointRadius: 0, fill: false, clip: false, order: 3,
    },
  ];
  const overlay = {
    id: 'riseOverlay' + row,
    afterDraw(chart) {
      const ctx = chart.ctx;
      const xs = chart.scales.x;
      const ay = AXIS_Y[row];
      ctx.save();
      ctx.strokeStyle = INK;
      ctx.lineWidth = 1;
      hLine(ctx, xs.getPixelForValue(RISE_X_TICKS[0]), xs.getPixelForValue(RISE_X_TICKS[RISE_X_TICKS.length - 1]) + 1, ay);
      RISE_X_TICKS.forEach((v) => vLine(ctx, xs.getPixelForValue(v), ay, ay + 5));
      RISE_X_LABELS.forEach(([v, s]) => drawRich(ctx, xs.getPixelForValue(v), ay + 15, [{ t: s }], 'center'));
      drawLetter(ctx, PANEL_LETTERS[row][1], 214, row);
      const [ax, ayy] = RISE_A_POS[row];
      drawRich(ctx, ax, ayy, [{ t: 'A', italic: true }, { t: ' = ' + RISE_A_VALUES[row] + ' s' }, { t: '  -2', size: 6.5, dy: -4 }]);
      if (row === 3) drawRich(ctx, 292, 724, [{ t: 'Time from flash (s)' }], 'center', 10.5);
      ctx.restore();
    },
  };
  return {
    type: 'line',
    data: { datasets },
    options: baseOptions(pad(RISE_PIX.left, top, RISE_PIX.tenth, bottom), {
      x: hidden('linear', xmin, xmax),
      y: hidden('linear', ymin, ymax),
    }),
    plugins: [overlay],
  };
}

function ampConfig(row) {
  const R = ROW_TOP[row];
  const top = R + 6, bottom = R + 141;
  const gx = AMP_X_PIX[row];
  const [xmin, xmax] = lin(gx.v1, gx.p1, gx.v2, gx.p2, gx.l, gx.r, true);
  const [ymin, ymax] = lin(1, R + AMP_PIX.one, 0.1, R + AMP_PIX.tenth, bottom, top, true);
  const [rmin, rmax] = lin(0.5, R + AMP_PIX.half, 0, R + AMP_PIX.zeroRec, bottom, top);
  const pts = (arr) => arr.map(([x, y]) => ({ x, y }));
  const datasets = [
    {
      data: pts(AMP_SETS[row]), yAxisID: 'y', showLine: false, pointRadius: 3.4,
      pointBackgroundColor: '#ffffff', pointBorderColor: '#000', pointBorderWidth: 1, order: 1,
      errorBars: AMP_ERR_SETS[row],
    },
    {
      data: pts(REC_SETS[row]), yAxisID: 'y2', showLine: false, pointRadius: 3.4,
      pointBackgroundColor: '#a0a0a0', pointBorderColor: '#000', pointBorderWidth: 1, order: 1,
      errorBars: REC_ERR_SETS[row],
    },
    {
      data: pts(FIT_SETS[row]), yAxisID: 'y', borderColor: '#000', borderWidth: 1, pointRadius: 0,
      fill: false, cubicInterpolationMode: 'monotone', order: 2,
    },
    {
      data: pts(TAU_LINE_SETS[row]), yAxisID: 'y2', borderColor: '#000', borderWidth: 1, pointRadius: 0,
      fill: false, order: 2,
    },
  ];
  const [spanLo, spanHi] = AMP_X_SPAN[row];
  const overlay = {
    id: 'ampOverlay' + row,
    beforeDatasetsDraw(chart) {
      const ctx = chart.ctx;
      ctx.save();
      ctx.strokeStyle = '#000';
      ctx.lineWidth = 1;
      chart.data.datasets.forEach((ds) => {
        if (!ds.errorBars) return;
        const xs = chart.scales.x, ys = chart.scales[ds.yAxisID];
        ds.data.forEach((p, i) => {
          const e = ds.errorBars[i];
          if (!e) return;
          const x = xs.getPixelForValue(p.x);
          const y1 = ys.getPixelForValue(e[0]), y2 = ys.getPixelForValue(e[1]);
          vLine(ctx, x, y1, y2);
          hLine(ctx, x - 3, x + 4, y1);
          hLine(ctx, x - 3, x + 4, y2);
        });
      });
      ctx.restore();
    },
    afterDraw(chart) {
      const ctx = chart.ctx;
      const xs = chart.scales.x, ys = chart.scales.y, rs = chart.scales.y2;
      const ay = AXIS_Y[row];
      ctx.save();
      ctx.strokeStyle = INK;
      ctx.lineWidth = 1;
      // left log axis
      vLine(ctx, AMP_PIX.leftAxis, ys.getPixelForValue(1), ys.getPixelForValue(0.05));
      AMP_TICKS.forEach((v, k) => {
        const p = ys.getPixelForValue(v);
        hLine(ctx, AMP_PIX.leftAxis - 3, AMP_PIX.leftAxis + 0.5, p);
        drawRich(ctx, 448, p, [{ t: AMP_TICK_LABELS[k] }], 'right');
      });
      // right recovery axis
      vLine(ctx, AMP_PIX.rightAxis, rs.getPixelForValue(0.5), rs.getPixelForValue(0) + 1);
      REC_TICKS.forEach((v) => hLine(ctx, AMP_PIX.rightAxis, AMP_PIX.rightAxis + 4, rs.getPixelForValue(v)));
      REC_TICK_LABELS.forEach(([v, s]) => drawRich(ctx, 625, rs.getPixelForValue(v), [{ t: s }], 'left'));
      // log x axis
      hLine(ctx, xs.getPixelForValue(spanLo), xs.getPixelForValue(spanHi) + 1, ay);
      const e0 = Math.floor(Math.log10(spanLo)), e1 = Math.ceil(Math.log10(spanHi));
      for (let e = e0; e <= e1; e++) {
        for (let m = 1; m <= 9; m++) {
          const v = m * Math.pow(10, e);
          if (v < spanLo * 0.999 || v > spanHi * 1.001) continue;
          const x = xs.getPixelForValue(v);
          vLine(ctx, x, ay, ay + (m === 1 ? 5 : 3));
          if (m === 1) {
            ctx.font = fnt(SMALL, false);
            const w10 = ctx.measureText('10').width;
            drawRich(ctx, x - w10 / 2, ay + 13, [{ t: '10' }, { t: String(e), size: 6.5, dy: -4 }], 'left');
          }
        }
      }
      drawRotated(ctx, 413, R + 78, [{ t: 'Normalized amplitude' }], 9.6);
      drawRotated(ctx, 652, R + 87, [{ t: 'Time to 40% recovery (s)' }], 10.5);
      drawLetter(ctx, PANEL_LETTERS[row][2], 419, row);
      drawRich(ctx, 465, R + AMP_PIX.one, [
        { t: 'Q', italic: true }, { t: '1/2', size: 6.5, dy: 3 }, { t: ' = ' + Q_HALF_VALUES[row] },
      ]);
      const [tx, ty] = TAU_POS[row];
      drawRich(ctx, tx, ty, [{ t: 'τ = ' + TAU_VALUES[row] + ' ms' }]);
      if (row === 3) {
        drawRich(ctx, 462, 714, [{ t: 'Flash intensity (photons' }], 'left', 10.5);
        drawRich(ctx, 584, 714, [{ t: 'μm' }, { t: '-2', size: 6.5, dy: -4 }, { t: ' )' }], 'left', 10.5);
      }
      ctx.restore();
    },
  };
  return {
    type: 'line',
    data: { datasets },
    options: baseOptions(pad(gx.l, top, gx.r, bottom), {
      x: hidden('logarithmic', xmin, xmax),
      y: hidden('logarithmic', ymin, ymax),
      y2: hidden('linear', rmin, rmax, { position: 'right' }),
    }),
    plugins: [overlay],
  };
}

const PANEL_BUILDERS = [0, 1, 2, 3].flatMap((row) => [
  () => traceConfig(row),
  () => riseConfig(row),
  () => ampConfig(row),
]);

// ======================= COMPONENT =======================
export default function App() {
  const refs = useRef([]);
  useEffect(() => {
    const charts = PANEL_BUILDERS.map((build, i) => new Chart(refs.current[i], build()));
    return () => charts.forEach((c) => c.destroy());
  }, []);
  return (
    <div style={{ position: 'fixed', left: 0, top: 0, width: W, height: H, background: '#ffffff' }}>
      {PANEL_BUILDERS.map((_, i) => (
        <canvas
          key={i}
          ref={(el) => { refs.current[i] = el; }}
          width={W}
          height={H}
          style={{ position: 'absolute', left: 0, top: 0, width: W, height: H }}
        />
      ))}
    </div>
  );
}
